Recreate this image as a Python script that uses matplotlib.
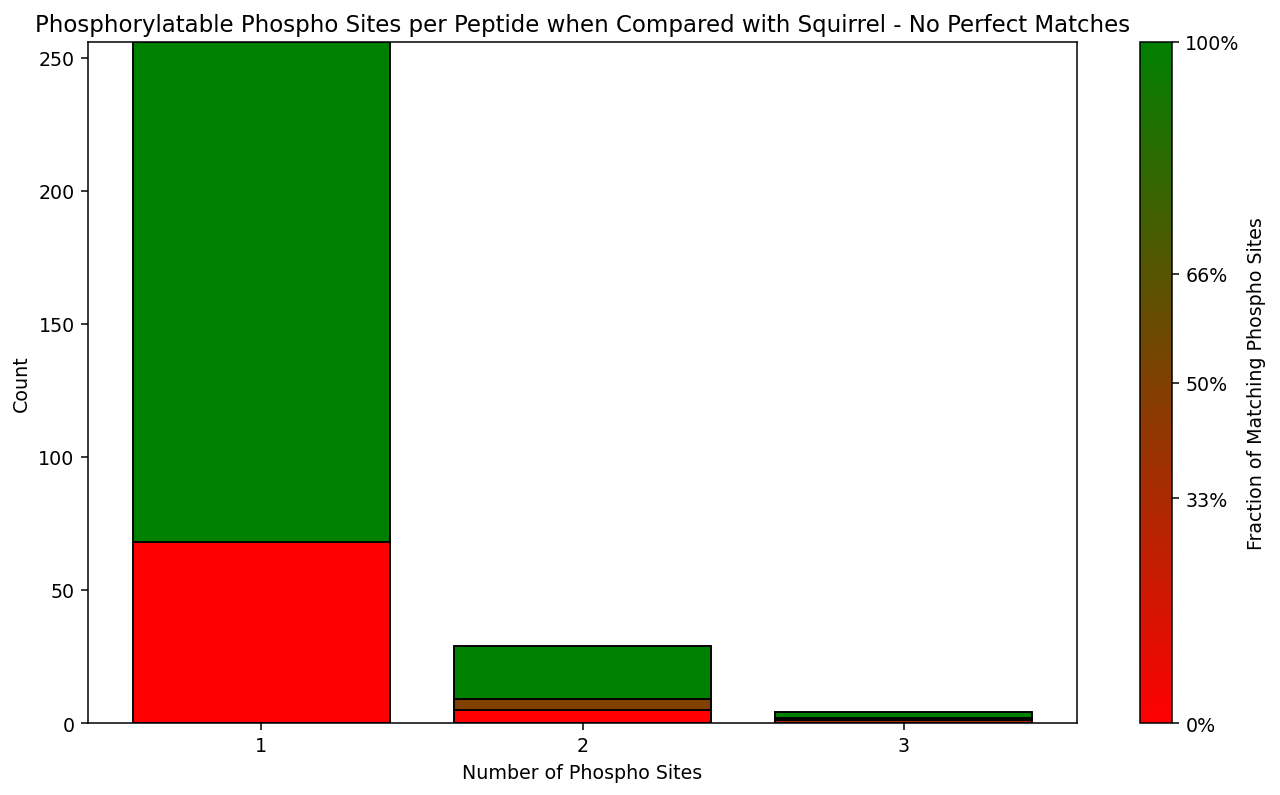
import matplotlib
matplotlib.use("Agg")
import matplotlib.pyplot as plt
from matplotlib.colors import LinearSegmentedColormap, Normalize
from matplotlib.cm import ScalarMappable

# number of phospho sites per peptide
sites = [1, 2, 3]
# stacked segments per bar: (fraction of matching sites, count)
segments_1 = [(0.0, 68), (1.0, 188)]
segments_2 = [(0.0, 5), (0.5, 4), (1.0, 20)]
segments_3 = [(1 / 3, 1), (2 / 3, 1), (1.0, 2)]
all_segments = [segments_1, segments_2, segments_3]

cbar_ticks = [0, 0.33, 0.5, 0.66, 1.0]
cbar_labels = ["0%", "33%", "50%", "66%", "100%"]

cmap = LinearSegmentedColormap.from_list("rg", ["#ff0000", "#008000"])
norm = Normalize(0, 1)

DPI = 137
fig = plt.figure(figsize=(1280 / DPI, 796 / DPI), dpi=DPI)
ax = fig.add_axes([88 / 1280, 1 - 724 / 796, (1077 - 88) / 1280, (724 - 43) / 796])
cax = fig.add_axes([1140 / 1280, 1 - 724 / 796, 32 / 1280, (724 - 43) / 796])

for x, segs in zip(sites, all_segments):
    bottom = 0
    for frac, count in segs:
        ax.bar(x, count, bottom=bottom, width=0.8, color=cmap(norm(frac)),
               edgecolor="black", linewidth=1)
        bottom += count

ax.set_xticks(sites)
ax.set_ylim(0, 256)
ax.set_xlabel("Number of Phospho Sites")
ax.set_ylabel("Count")
ax.set_title("Phosphorylatable Phospho Sites per Peptide when Compared with Squirrel - No Perfect Matches")

cb = fig.colorbar(ScalarMappable(norm=norm, cmap=cmap), cax=cax)
cb.set_ticks(cbar_ticks)
cb.set_ticklabels(cbar_labels)
cb.set_label("Fraction of Matching Phospho Sites")

fig.savefig("out.png", dpi=DPI)
